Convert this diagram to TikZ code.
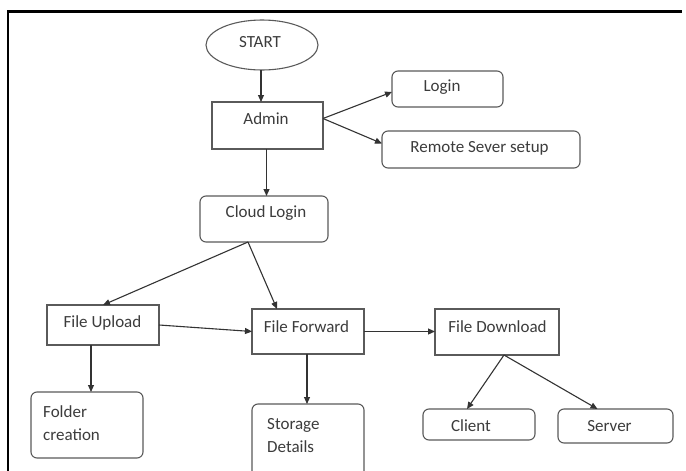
\documentclass[tikz,border=0pt]{standalone}
\usepackage{fontspec}
\setmainfont{Carlito}
\usetikzlibrary{arrows.meta,shapes.geometric}
\definecolor{boxline}{HTML}{5A5A5A}
\definecolor{arrline}{HTML}{333333}
\definecolor{txt}{HTML}{3C3C3C}
\tikzset{
  box/.style={draw=boxline, line width=1.1pt, inner sep=0pt, outer sep=0pt},
  rbox/.style={box, rounded corners=6pt},
  oval/.style={box, ellipse},
  lbl/.style={text=txt, font=\fontsize{17}{23}\selectfont, inner sep=0pt},
  conn/.style={draw=arrline, line width=1.1pt, -{Triangle[length=7pt,width=6pt]}},
  frame/.style={draw=black, line width=2.6pt}
}
\begin{document}
\begin{tikzpicture}[x=1pt,y=-1pt]
\useasboundingbox (0,0) rectangle (686,471);
\clip (0,0) rectangle (686,471);
\fill[white] (0,0) rectangle (686,471);
% frame
\draw[frame] (8,471) -- (8,11.5) -- (682,11.5);
% shapes
\node[oval, minimum width=112pt, minimum height=50pt] (start) at (262,45) {};
\node[box, minimum width=111pt, minimum height=47pt] (admin) at (267.5,125.5) {};
\node[rbox, minimum width=111pt, minimum height=36pt] (login) at (447.5,89) {};
\node[rbox, minimum width=198pt, minimum height=37pt] (remote) at (481,149.5) {};
\node[rbox, minimum width=128pt, minimum height=46pt] (cloud) at (264,219) {};
\node[box, minimum width=112pt, minimum height=40pt] (upload) at (103,325) {};
\node[box, minimum width=112pt, minimum height=45pt] (forward) at (308,331.5) {};
\node[box, minimum width=124pt, minimum height=46pt] (download) at (497,332) {};
\node[rbox, minimum width=112pt, minimum height=66pt] (folder) at (87,425) {};
\node[rbox, minimum width=112pt, minimum height=76pt] (storage) at (308,442) {};
\node[rbox, minimum width=112pt, minimum height=31pt] (client) at (479,424.5) {};
\node[rbox, minimum width=115pt, minimum height=34pt] (server) at (615.5,426) {};
% texts
\node[lbl] (tstart) at (260,42) {START};
\node[lbl] (tadmin) at (266,119) {Admin};
\node[lbl] (tlogin) at (442,87) {Login};
\node[lbl] (tremote) at (479.5,148) {Remote Sever setup};
\node[lbl] (tcloud) at (266,213) {Cloud Login};
\node[lbl] (tupload) at (102.5,323) {File Upload};
\node[lbl] (tforward) at (306.5,327) {File Forward};
\node[lbl] (tdownload) at (497.5,327) {File Download};
\node[lbl, align=left, anchor=west] (tfolder) at (43,423.5) {Folder\\creation};
\node[lbl, align=left, anchor=west] (tstorage) at (267,435.5) {Storage\\Details};
\node[lbl] (tclient) at (471,426) {Client};
\node[lbl] (tserver) at (609.5,426) {Server};
% connectors
\draw[conn] ([xshift=-1pt]start.south) -- ([xshift=-1pt]start.south |- admin.north);
\draw[conn] ([yshift=7pt]admin.east) -- ([yshift=-3pt]login.west);
\draw[conn] ([yshift=7pt]admin.east) -- ([yshift=6pt]remote.west);
\draw[conn] ([xshift=-1pt]admin.south) -- ([xshift=-1pt]admin.south |- cloud.north);
\draw[conn] ([xshift=-16pt]cloud.south) -- (upload.north);
\draw[conn] ([xshift=-16pt]cloud.south) -- ([xshift=-31pt]forward.north);
\draw[conn] (upload.east) -- (forward.west);
\draw[conn] ([xshift=-12pt]upload.south) -- ([xshift=-12pt]upload.south |- folder.north);
\draw[conn] (forward.east) -- (forward.east -| download.west);
\draw[conn] ([xshift=-1pt]forward.south) -- ([xshift=-1pt]forward.south |- storage.north);
\draw[conn] ([xshift=7pt]download.south) -- ([xshift=-12pt]client.north);
\draw[conn] ([xshift=7pt]download.south) -- ([xshift=-18pt]server.north);
\end{tikzpicture}
\end{document}
